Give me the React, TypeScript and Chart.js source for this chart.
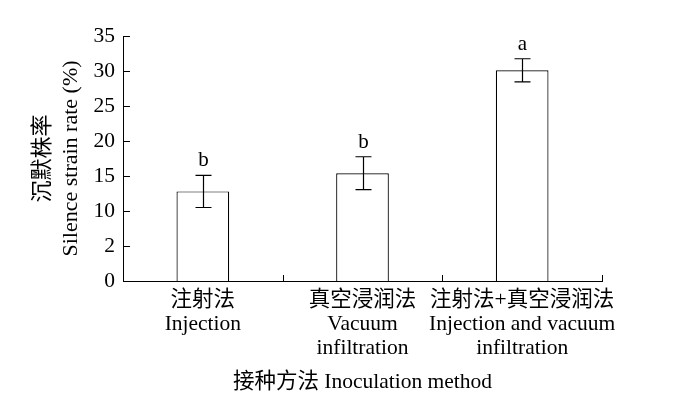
import React, { useEffect, useRef } from "react";
import { Chart, registerables } from "chart.js";

Chart.register(...registerables);

const categories: string[][] = [
  ["注射法", "Injection"],
  ["真空浸润法", "Vacuum", "infiltration"],
  ["注射法+真空浸润法", "Injection and vacuum", "infiltration"],
];
const values: number[] = [12.8, 15.4, 30.1];
const errors: number[] = [2.3, 2.35, 1.65];
const letters: string[] = ["b", "b", "a"];
const yTickLabels: string[] = ["0", "2", "10", "15", "20", "25", "30", "35"];
const yTitle: string[] = ["沉默株率", "Silence strain rate (%)"];
const xTitle = "接种方法 Inoculation method";

const FONT = "'Liberation Serif', 'Times New Roman', 'Noto Sans CJK SC', serif";

const inwardTicksPlugin = {
  id: "inwardTicks",
  afterDraw(chart: any) {
    const ctx = chart.ctx;
    const xs = chart.scales.x;
    const ys = chart.scales.y;
    const area = chart.chartArea;
    ctx.save();
    ctx.strokeStyle = "#000";
    ctx.lineWidth = 1;
    ctx.beginPath();
    // x ticks between categories and at the right end
    const n = xs.ticks.length;
    for (let i = 0; i < n; i++) {
      const p = xs.getPixelForTick(i);
      const next = i < n - 1 ? xs.getPixelForTick(i + 1) : null;
      const edge = next !== null ? (p + next) / 2 : area.right;
      const xx = Math.round(edge) + 0.5;
      ctx.moveTo(xx, area.bottom);
      ctx.lineTo(xx, area.bottom - 6);
    }
    // y ticks
    ys.ticks.forEach((t: any) => {
      const yy = Math.round(ys.getPixelForValue(t.value)) + 0.5;
      ctx.moveTo(area.left, yy);
      ctx.lineTo(area.left + 7, yy);
    });
    ctx.stroke();
    ctx.restore();
  },
};

const errorBarPlugin = {
  id: "errorBars",
  afterDatasetsDraw(chart: any) {
    const ctx = chart.ctx;
    const meta = chart.getDatasetMeta(0);
    const yScale = chart.scales.y;
    ctx.save();
    ctx.strokeStyle = "#000";
    ctx.lineWidth = 1.2;
    ctx.fillStyle = "#000";
    ctx.font = `21px ${FONT}`;
    ctx.textAlign = "center";
    ctx.textBaseline = "alphabetic";
    meta.data.forEach((bar: any, i: number) => {
      const x = Math.round(bar.x) + 0.5;
      const yTop = yScale.getPixelForValue(values[i] + errors[i]);
      const yBot = yScale.getPixelForValue(values[i] - errors[i]);
      const cap = 8;
      ctx.beginPath();
      ctx.moveTo(x, yTop);
      ctx.lineTo(x, yBot);
      ctx.moveTo(x - cap, yTop);
      ctx.lineTo(x + cap, yTop);
      ctx.moveTo(x - cap, yBot);
      ctx.lineTo(x + cap, yBot);
      ctx.stroke();
      ctx.fillText(letters[i], x, yTop - 9);
    });
    ctx.restore();
  },
};

export default function App() {
  const ref = useRef<HTMLCanvasElement | null>(null);
  useEffect(() => {
    if (!ref.current) return;
    const chart = new Chart(ref.current, {
      type: "bar",
      data: {
        labels: categories as any,
        datasets: [
          {
            data: values,
            backgroundColor: "#ffffff",
            borderColor: "#000000",
            borderWidth: 1.2,
            barPercentage: 0.33,
            categoryPercentage: 1,
          },
        ],
      },
      options: {
        animation: false,
        responsive: false,
        devicePixelRatio: 1,
        layout: { padding: { top: 36, right: 71, left: 0, bottom: 0 } },
        plugins: {
          legend: { display: false },
          tooltip: { enabled: false },
        },
        scales: {
          x: {
            offset: true,
            grid: { display: false, drawTicks: false },
            border: { display: true, color: "#000", width: 1 },
            ticks: {
              color: "#000",
              padding: 7,
              maxRotation: 0,
              autoSkip: false,
              font: { family: FONT, size: 21.5, lineHeight: "24px" },
            },
            title: {
              display: true,
              text: xTitle,
              color: "#000",
              padding: { top: 0, bottom: 2 },
              font: { family: FONT, size: 21.5, lineHeight: "24px" },
            },
            afterFit(scale: any) {
              scale.height = 115;
            },
          },
          y: {
            min: 0,
            max: 35,
            grid: { display: false, drawTicks: false },
            border: { display: true, color: "#000", width: 1 },
            ticks: {
              stepSize: 5,
              color: "#000",
              padding: 8,
              font: { family: FONT, size: 21.5 },
              callback: (v: any) => yTickLabels[Math.round(Number(v) / 5)] ?? "",
            },
            title: {
              display: true,
              text: yTitle,
              color: "#000",
              padding: { top: 29, bottom: 0 },
              font: { family: FONT, size: 22, lineHeight: "28px" },
            },
            afterFit(scale: any) {
              scale.width = 123;
            },
          },
        },
      },
      plugins: [errorBarPlugin, inwardTicksPlugin],
    } as any);
    return () => chart.destroy();
  }, []);
  return (
    <div style={{ position: "absolute", left: 0, top: 0, width: 673, height: 396, background: "#fff" }}>
      <canvas ref={ref} width={673} height={396} style={{ display: "block" }} />
    </div>
  );
}
